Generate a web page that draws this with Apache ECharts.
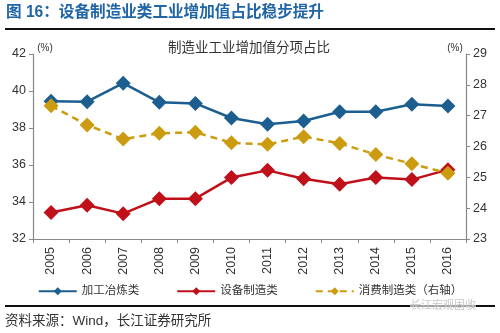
<!DOCTYPE html>
<html>
<head>
<meta charset="utf-8">
<script src="https://cdn.jsdelivr.net/npm/echarts@6/dist/echarts.min.js"></script>
<style>html,body{margin:0;padding:0;background:#fff;}#c{width:500px;height:333px;}</style>
</head>
<body>
<div id="c"></div>
<script>
const categories = ['2005','2006','2007','2008','2009','2010','2011','2012','2013','2014','2015','2016'];
const processing = [39.45, 39.42, 40.42, 39.39, 39.33, 38.54, 38.2, 38.38, 38.88, 38.88, 39.28, 39.19];
const equipment = [33.43, 33.82, 33.37, 34.18, 34.18, 35.32, 35.71, 35.26, 34.96, 35.32, 35.21, 35.75];
const consumer = [27.32, 26.70, 26.24, 26.43, 26.46, 26.12, 26.07, 26.32, 26.10, 25.74, 25.44, 25.13];
const seriesNames = ['加工冶炼类', '设备制造类', '消费制造类（右轴）'];
const leftTicks = {min: 32, max: 42, interval: 2};
const rightTicks = {min: 23, max: 29, interval: 1};

const FONT = '"Liberation Sans", "Noto Sans CJK SC", sans-serif';
const BLUE = '#1b5e8f', RED = '#c0101a', GOLD = '#cc9c10';

const chart = echarts.init(document.getElementById('c'), null, {renderer: 'canvas'});
chart.setOption({
  animation: false,
  textStyle: {fontFamily: FONT},
  grid: {left: 33, right: 34, top: 54, bottom: 94, containLabel: false},
  graphic: [
    {type: 'text', left: 6, top: 5, style: {text: '图 16：设备制造业类工业增加值占比稳步提升', fill: '#2065a6', font: 'bold 15.6px ' + FONT}},
    {type: 'line', shape: {x1: 5, y1: 29, x2: 495, y2: 29}, style: {stroke: '#111', lineWidth: 2}},
    {type: 'text', x: 249, y: 48, style: {text: '制造业工业增加值分项占比', fill: '#333', font: '13.5px ' + FONT, align: 'center', verticalAlign: 'middle'}},
    {type: 'text', x: 45, y: 48, style: {text: '(%)', fill: '#333', font: '10px ' + FONT, align: 'center', verticalAlign: 'middle'}},
    {type: 'text', x: 455, y: 48, style: {text: '(%)', fill: '#333', font: '10px ' + FONT, align: 'center', verticalAlign: 'middle'}},
    {type: 'line', shape: {x1: 5, y1: 306, x2: 495, y2: 306}, style: {stroke: '#111', lineWidth: 2}},
    {type: 'text', x: 443, y: 306, z: 10, style: {text: '长江宏观固收', fill: '#c8c8c8', font: '11px ' + FONT, align: 'center', verticalAlign: 'middle', backgroundColor: 'rgba(255,255,255,0.6)'}},
    {type: 'text', left: 5, top: 315, style: {text: '资料来源：Wind，长江证券研究所', fill: '#333', font: '13.5px ' + FONT}}
  ],
  legend: {
    bottom: 31, left: 'center',
    itemWidth: 38, itemHeight: 10, itemGap: 37,
    textStyle: {fontSize: 11.5, color: '#333', fontFamily: FONT},
    data: seriesNames
  },
  xAxis: {
    type: 'category', data: categories, boundaryGap: true,
    axisLine: {lineStyle: {color: '#888', width: 1.2}},
    axisTick: {show: true, length: 4, lineStyle: {color: '#888'}},
    axisLabel: {rotate: 90, fontSize: 12.5, color: '#333', margin: 8, fontFamily: FONT}
  },
  yAxis: [
    {type: 'value', min: leftTicks.min, max: leftTicks.max, interval: leftTicks.interval,
     axisLine: {show: true, lineStyle: {color: '#888', width: 1.2}},
     axisTick: {show: true, length: 4, lineStyle: {color: '#888'}},
     splitLine: {show: false},
     axisLabel: {fontSize: 12.5, color: '#333', margin: 7, fontFamily: FONT}},
    {type: 'value', min: rightTicks.min, max: rightTicks.max, interval: rightTicks.interval, position: 'right',
     axisLine: {show: true, lineStyle: {color: '#888', width: 1.2}},
     axisTick: {show: true, length: 4, lineStyle: {color: '#888'}},
     splitLine: {show: false},
     axisLabel: {fontSize: 12.5, color: '#333', margin: 7, fontFamily: FONT}}
  ],
  series: [
    {name: seriesNames[0], type: 'line', yAxisIndex: 0, data: processing,
     symbol: 'diamond', symbolSize: 15, color: BLUE,
     lineStyle: {width: 2.5, color: BLUE}, itemStyle: {color: BLUE}},
    {name: seriesNames[1], type: 'line', yAxisIndex: 0, data: equipment,
     symbol: 'diamond', symbolSize: 15, color: RED,
     lineStyle: {width: 2.5, color: RED}, itemStyle: {color: RED}},
    {name: seriesNames[2], type: 'line', yAxisIndex: 1, data: consumer,
     symbol: 'diamond', symbolSize: 15, color: GOLD,
     lineStyle: {width: 2.5, color: GOLD, type: [7, 5]}, itemStyle: {color: GOLD}}
  ]
});
</script>
</body>
</html>
